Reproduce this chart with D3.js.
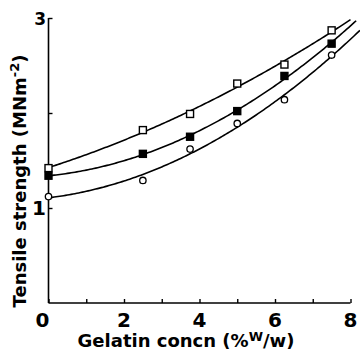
<!DOCTYPE html>
<html>
<head>
<meta charset="utf-8">
<script src="https://cdn.jsdelivr.net/npm/d3@7"></script>
<style>
  html, body { margin: 0; padding: 0; background: #fff; }
  svg { display: block; }
  text { font-family: "DejaVu Sans", sans-serif; font-weight: bold; fill: #000; }
</style>
</head>
<body>
<svg id="chart" width="360" height="353"></svg>
<script>
// Gelatin concentration (% w/w) at which tensile strength was measured
const concn = [0, 2.5, 3.75, 5, 6.25, 7.5];

// Tensile strength (MN m^-2) for three film series
const openSquares   = [1.42, 1.82, 1.99, 2.31, 2.51, 2.87];
const filledSquares = [1.34, 1.57, 1.75, 2.02, 2.39, 2.73];
const openCircles   = [1.12, 1.29, 1.62, 1.89, 2.14, 2.61];

// how far each fitted curve is carried along the x axis
const curveEnds = [8.0, 8.15, 8.25];

const xTicks = [0, 1, 2, 3, 4, 5, 6, 7, 8];
const xTickLabels = ["0", "2", "4", "6", "8"];
const yTicks = [1, 2, 3];
const yTickLabels = ["1", "3"];

const series = [
  { name: "open square",   values: openSquares,   marker: "square", fill: "#fff" },
  { name: "filled square", values: filledSquares, marker: "square", fill: "#000" },
  { name: "open circle",   values: openCircles,   marker: "circle", fill: "#fff" }
];

const svg = d3.select("#chart");
const x = d3.scaleLinear().domain([0, 8]).range([48.5, 350.5]);
const y = d3.scaleLinear().domain([0, 3]).range([303, 18]);

// least-squares quadratic through each series
function quadFit(xs, ys) {
  let s = Array(5).fill(0), t = Array(3).fill(0);
  xs.forEach((xi, i) => {
    for (let k = 0; k < 5; k++) s[k] += Math.pow(xi, k);
    for (let k = 0; k < 3; k++) t[k] += ys[i] * Math.pow(xi, k);
  });
  const A = [[s[0], s[1], s[2], t[0]], [s[1], s[2], s[3], t[1]], [s[2], s[3], s[4], t[2]]];
  for (let i = 0; i < 3; i++) {
    for (let j = i + 1; j < 3; j++) {
      const f = A[j][i] / A[i][i];
      for (let k = i; k < 4; k++) A[j][k] -= f * A[i][k];
    }
  }
  const c = [0, 0, 0];
  for (let i = 2; i >= 0; i--) {
    let v = A[i][3];
    for (let k = i + 1; k < 3; k++) v -= A[i][k] * c[k];
    c[i] = v / A[i][i];
  }
  return xv => c[0] + c[1] * xv + c[2] * xv * xv;
}

// axes
const xAxis = d3.axisBottom(x).tickValues(xTicks).tickSize(-4).tickFormat("");
const yAxis = d3.axisLeft(y).tickValues(yTicks).tickSize(-4).tickFormat("");
const gx = svg.append("g").attr("transform", `translate(0,${y(0)})`).call(xAxis);
const gy = svg.append("g").attr("transform", `translate(${x(0)},0)`).call(yAxis);
[gx, gy].forEach(g => {
  g.select(".domain").attr("stroke", "#000").attr("stroke-width", 1.6)
    .attr("d", g === gx ? `M${x(0)},0H${x(8)}` : `M0,${y(3)}V${y(0)}`);
  g.selectAll(".tick line").attr("stroke", "#000").attr("stroke-width", 1.4);
});

// tick labels
svg.append("g").selectAll("text").data(xTickLabels).join("text")
  .attr("x", d => x(+d) + (d === "0" ? -6 : 0))
  .attr("y", 327)
  .attr("text-anchor", "middle")
  .style("font-size", "20px")
  .text(d => d);
svg.append("g").selectAll("text").data(yTickLabels).join("text")
  .attr("x", 46)
  .attr("y", d => y(+d) + 7)
  .attr("text-anchor", "end")
  .style("font-size", d => d === "3" ? "17px" : "20px")
  .text(d => d);

// axis titles
const xt = svg.append("text").attr("x", 186).attr("y", 347)
  .attr("text-anchor", "middle").style("font-size", "18px");
xt.append("tspan").text("Gelatin  concn  (%");
xt.append("tspan").attr("dy", -6).style("font-size", "13px").text("W");
xt.append("tspan").attr("dy", 6).text("/w)");

const yt = svg.append("text").attr("transform", "translate(26,181) rotate(-90)")
  .attr("text-anchor", "middle").style("font-size", "18px");
yt.append("tspan").text("Tensile  strength  (MNm");
yt.append("tspan").attr("dy", -7).style("font-size", "13px").text("-2");
yt.append("tspan").attr("dy", 7).text(")");

// fitted curves
const line = d3.line().x(d => x(d[0])).y(d => y(d[1])).curve(d3.curveLinear);
series.forEach((s, i) => {
  const f = quadFit(concn, s.values);
  const pts = d3.range(0, curveEnds[i] + 1e-9, 0.05).map(v => [v, f(v)]);
  svg.append("path").datum(pts).attr("d", line)
    .attr("fill", "none").attr("stroke", "#000").attr("stroke-width", 1.6);
});

// data markers
series.forEach(s => {
  const g = svg.append("g");
  const pts = concn.map((c, i) => [c, s.values[i]]);
  if (s.marker === "square") {
    g.selectAll("rect").data(pts).join("rect")
      .attr("x", d => x(d[0]) - 3.5).attr("y", d => y(d[1]) - 3.5)
      .attr("width", 7).attr("height", 7)
      .attr("fill", s.fill).attr("stroke", "#000").attr("stroke-width", 1.4);
  } else {
    g.selectAll("circle").data(pts).join("circle")
      .attr("cx", d => x(d[0])).attr("cy", d => y(d[1])).attr("r", 3.2)
      .attr("fill", s.fill).attr("stroke", "#000").attr("stroke-width", 1.3);
  }
});
</script>
</body>
</html>
